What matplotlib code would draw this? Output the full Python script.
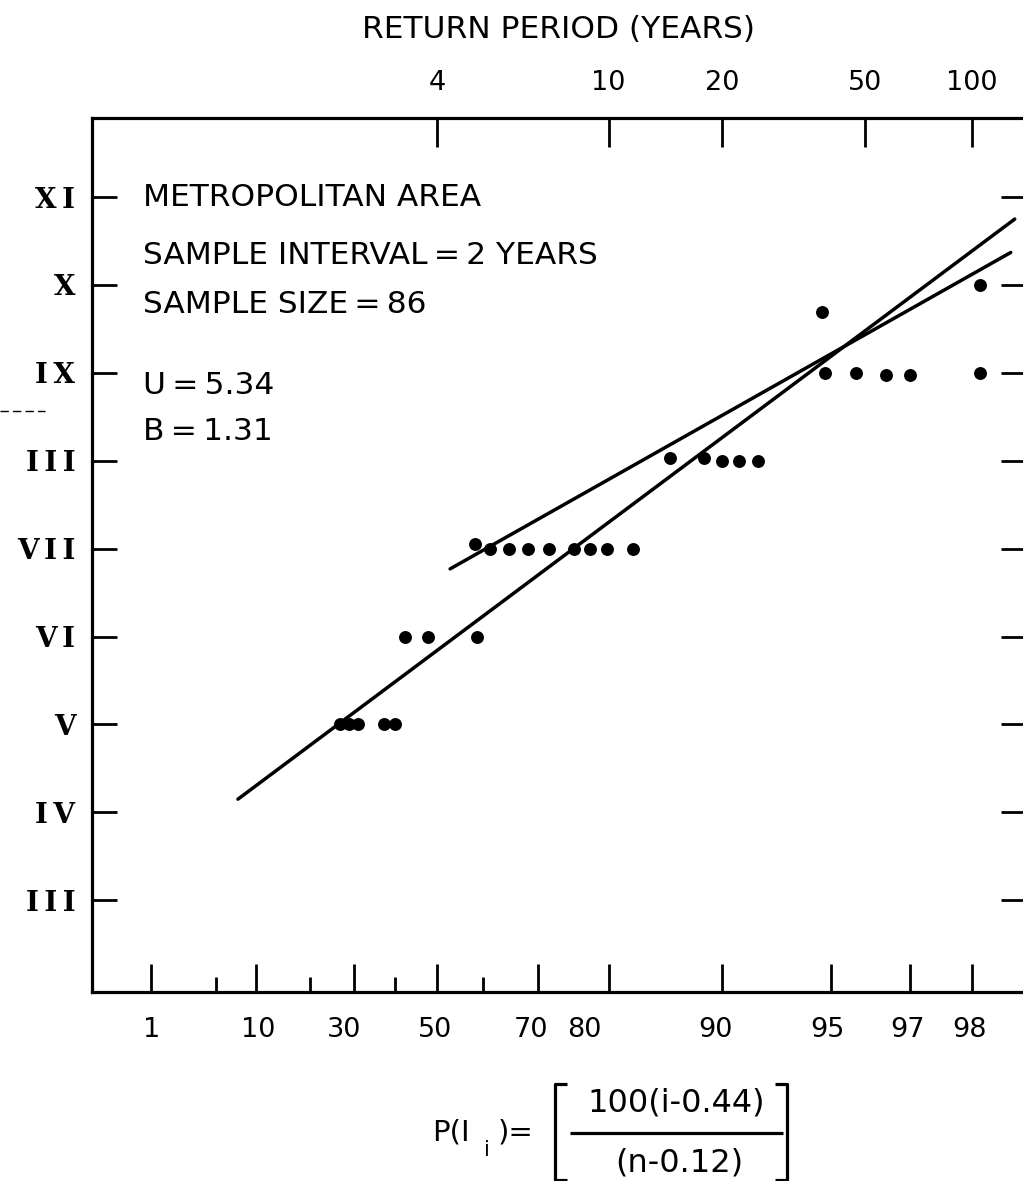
import numpy as np
import matplotlib
matplotlib.use("Agg")
import matplotlib.pyplot as plt
from matplotlib.transforms import blended_transform_factory, offset_copy
from matplotlib.lines import Line2D

# ---------------- data ----------------
# plotting position (percent) and intensity of each observed point
obs_pct = [26.7, 28.9, 31.0, 37.3, 40.0,
           42.4, 47.8, 58.7,
           58.3, 61.3, 64.9, 68.4, 71.8, 75.5, 77.7, 79.8, 82.7,
           86.2, 88.8, 90.0, 91.0, 92.0,
           94.8, 95.75, 96.5, 97.0, 98.1,
           94.7, 98.1]
obs_int = [5.0, 5.0, 5.0, 5.0, 5.0,
           6.0, 6.0, 6.0,
           7.05, 7.0, 7.0, 7.0, 7.0, 7.0, 7.0, 7.0, 7.0,
           8.03, 8.03, 8.0, 8.0, 8.0,
           9.0, 9.0, 8.98, 8.98, 9.0,
           9.69, 10.0]

# fitted lines (end points)
fit_a_pct = [7.5, 98.49]
fit_a_int = [4.15, 10.75]
fit_b_pct = [52.9, 98.45]
fit_b_int = [6.77, 10.37]

prob_ticks = [1, 10, 30, 50, 70, 80, 90, 95, 97, 98]
prob_labels = ["1", "10", "30", "50", "70", "80", "90", "95", "97", "98"]
prob_minor = [5, 20, 40, 60]
return_periods = [4, 10, 20, 50, 100]
return_labels = ["4", "10", "20", "50", "100"]
sample_interval = 2
intensity_ticks = [3, 4, 5, 6, 7, 8, 9, 10, 11]
intensity_labels = ["III", "IV", "V", "VI", "VII", "III", "IX", "X", "XI"]

info_lines = ["METROPOLITAN AREA", "SAMPLE INTERVAL\u2009=\u20092 YEARS",
              "SAMPLE SIZE\u2009=\u200986", "U\u2009=\u20095.34", "B\u2009=\u20091.31"]

# ---------------- scale (Gumbel probability paper) ----------------
def fwd(p):
    p = np.clip(np.asarray(p, dtype=float), 1e-9, 100 - 1e-9)
    return -np.log(-np.log(p / 100.0))

def inv(g):
    return 100.0 * np.exp(-np.exp(-np.asarray(g, dtype=float)))

W, H = 1023, 1181
fig = plt.figure(figsize=(W / 100, H / 100), dpi=100)

def fx(x):
    return x / W

def fy(y):
    return 1 - y / H

ax = fig.add_axes([92 / W, 1 - 992 / H, (1026 - 92) / W, (992 - 118) / H])
ax.set_xscale("function", functions=(fwd, inv))
ax.set_xlim(inv(-1.917), inv(4.26))
ax.set_ylim(1.956, 11.9)

ax.plot(fit_a_pct, fit_a_int, color="black", lw=2.5, solid_capstyle="round")
ax.plot(fit_b_pct, fit_b_int, color="black", lw=2.5, solid_capstyle="round")
ax.plot(obs_pct, obs_int, "o", color="black", markersize=9.3, markeredgewidth=0)

for s in ax.spines.values():
    s.set_linewidth(2.3)

# x ticks (bottom)
ax.set_xticks(prob_ticks)
ax.set_xticks(prob_minor, minor=True)
ax.tick_params(axis="x", which="major", direction="in", length=20, width=2,
               bottom=True, top=False, labelbottom=False)
ax.tick_params(axis="x", which="minor", direction="in", length=11, width=2,
               bottom=True, top=False, labelbottom=False)
label_dx = [1, 2, -10, -2, -7, -24, -7, -4, -2, -2]
btrans = blended_transform_factory(ax.transData, ax.transAxes)
for p, lab, dx in zip(prob_ticks, prob_labels, label_dx):
    t = offset_copy(btrans, fig=fig, x=dx, y=-38, units="dots")
    ax.text(p, 0, lab, transform=t, ha="center", va="center",
            fontsize=19.5, family="DejaVu Sans")

# y ticks (roman intensity)
ax.set_yticks(intensity_ticks)
ax.set_yticklabels(["\u2009".join(l) for l in intensity_labels],
                   family="DejaVu Serif", fontweight="bold", fontsize=20)
ax.tick_params(axis="y", which="major", direction="in", length=18, width=2,
               left=True, right=True, pad=12)

# top axis: return period
ax2 = ax.twiny()
ax2.set_xscale("function", functions=(fwd, inv))
ax2.set_xlim(ax.get_xlim())
top_pos = [100.0 * (1 - sample_interval / T) for T in return_periods]
ax2.set_xticks(top_pos)
ax2.set_xticklabels(return_labels, fontsize=19.5, family="DejaVu Sans")
ax2.tick_params(axis="x", direction="in", length=21, width=2, pad=16)
ax2.xaxis.set_minor_locator(matplotlib.ticker.NullLocator())
for s in ax2.spines.values():
    s.set_visible(False)

fig.text(fx(559), fy(30), "RETURN PERIOD (YEARS)", ha="center", va="center",
         fontsize=22.5, family="DejaVu Sans")

info_y = [197, 256, 305, 385, 432]
for txt, yp in zip(info_lines, info_y):
    fig.text(fx(143), fy(yp), txt, ha="left", va="center", fontsize=22.5,
             family="DejaVu Sans")

# formula  P(I_i) = [ 100(i-0.44) / (n-0.12) ]
fs = 21
fig.text(fx(432), fy(1133), "P(I", ha="left", va="center", fontsize=fs)
fig.text(fx(487), fy(1150), "i", ha="center", va="center", fontsize=15)
fig.text(fx(498), fy(1133), ")=", ha="left", va="center", fontsize=fs)
fig.text(fx(676), fy(1103), "100(i-0.44)", ha="center", va="center", fontsize=23)
fig.text(fx(679), fy(1163), "(n-0.12)", ha="center", va="center", fontsize=23)
lk = dict(transform=fig.transFigure, color="black", lw=2.3,
          solid_capstyle="butt")
fig.add_artist(Line2D([fx(570), fx(783)], [fy(1133), fy(1133)], **lk))
fig.add_artist(Line2D([fx(567), fx(555), fx(555), fx(567)],
                      [fy(1084), fy(1084), fy(1180), fy(1180)], **lk))
fig.add_artist(Line2D([fx(775), fx(787), fx(787), fx(775)],
                      [fy(1084), fy(1084), fy(1180), fy(1180)], **lk))

# stray scan mark on the left margin
fig.add_artist(Line2D([fx(0), fx(45)], [fy(411), fy(411)],
                      transform=fig.transFigure, color="black", lw=1,
                      linestyle=(0, (6, 3))))

fig.savefig("out.png", dpi=100)
